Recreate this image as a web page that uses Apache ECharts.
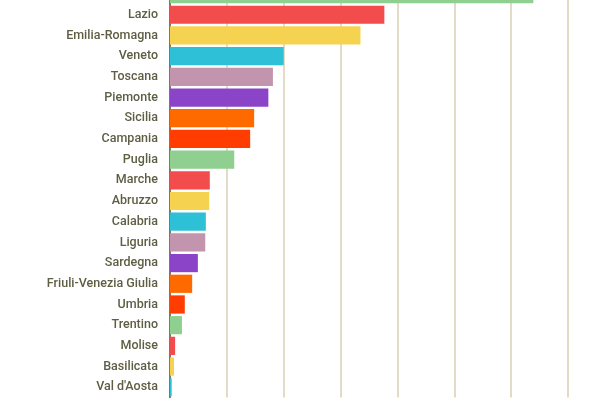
<!DOCTYPE html><html><head><meta charset="utf-8"><script src="https://cdn.jsdelivr.net/npm/echarts@6/dist/echarts.min.js"></script>
<style>body{margin:0;overflow:hidden;width:600px;height:400px;position:relative}#c{position:absolute;left:0;top:-21px;width:600px;height:421px}</style></head><body><div id="c"></div><script>
const categories=["Lombardia","Lazio","Emilia-Romagna","Veneto","Toscana","Piemonte","Sicilia","Campania","Puglia","Marche","Abruzzo","Calabria","Liguria","Sardegna","Friuli-Venezia Giulia","Umbria","Trentino","Molise","Basilicata","Val d'Aosta"];
const values=[6390,3770,3350,2000,1810,1730,1480,1410,1130,700,690,630,620,490,390,260,210,90,70,30];
const palette=["#8fcf8f","#f24c4c","#f5d24f","#2ec0d6","#c294ae","#8b44c8","#ff6a00","#ff3d00"];
const chart=echarts.init(document.getElementById('c'));
chart.setOption({animation:false,
grid:{left:170,right:32,top:4.7,bottom:2.4,containLabel:false},
xAxis:{type:'value',min:0,max:7000,interval:1000,axisLabel:{show:false},axisLine:{show:false},axisTick:{show:false},
 splitLine:{lineStyle:{color:'#d9d0b4',width:1.5}}},
yAxis:{type:'category',inverse:true,data:categories,axisTick:{show:false},
 axisLine:{lineStyle:{color:'#5a5a45',width:1.5}},
 axisLabel:{color:'#5e5e44',fontFamily:'Roboto',fontWeight:500,fontSize:12.5,margin:12}},
series:[{type:'bar',barCategoryGap:'12%',data:values.map((v,i)=>({value:v,itemStyle:{color:palette[i%8]}}))}]
});
</script></body></html>
